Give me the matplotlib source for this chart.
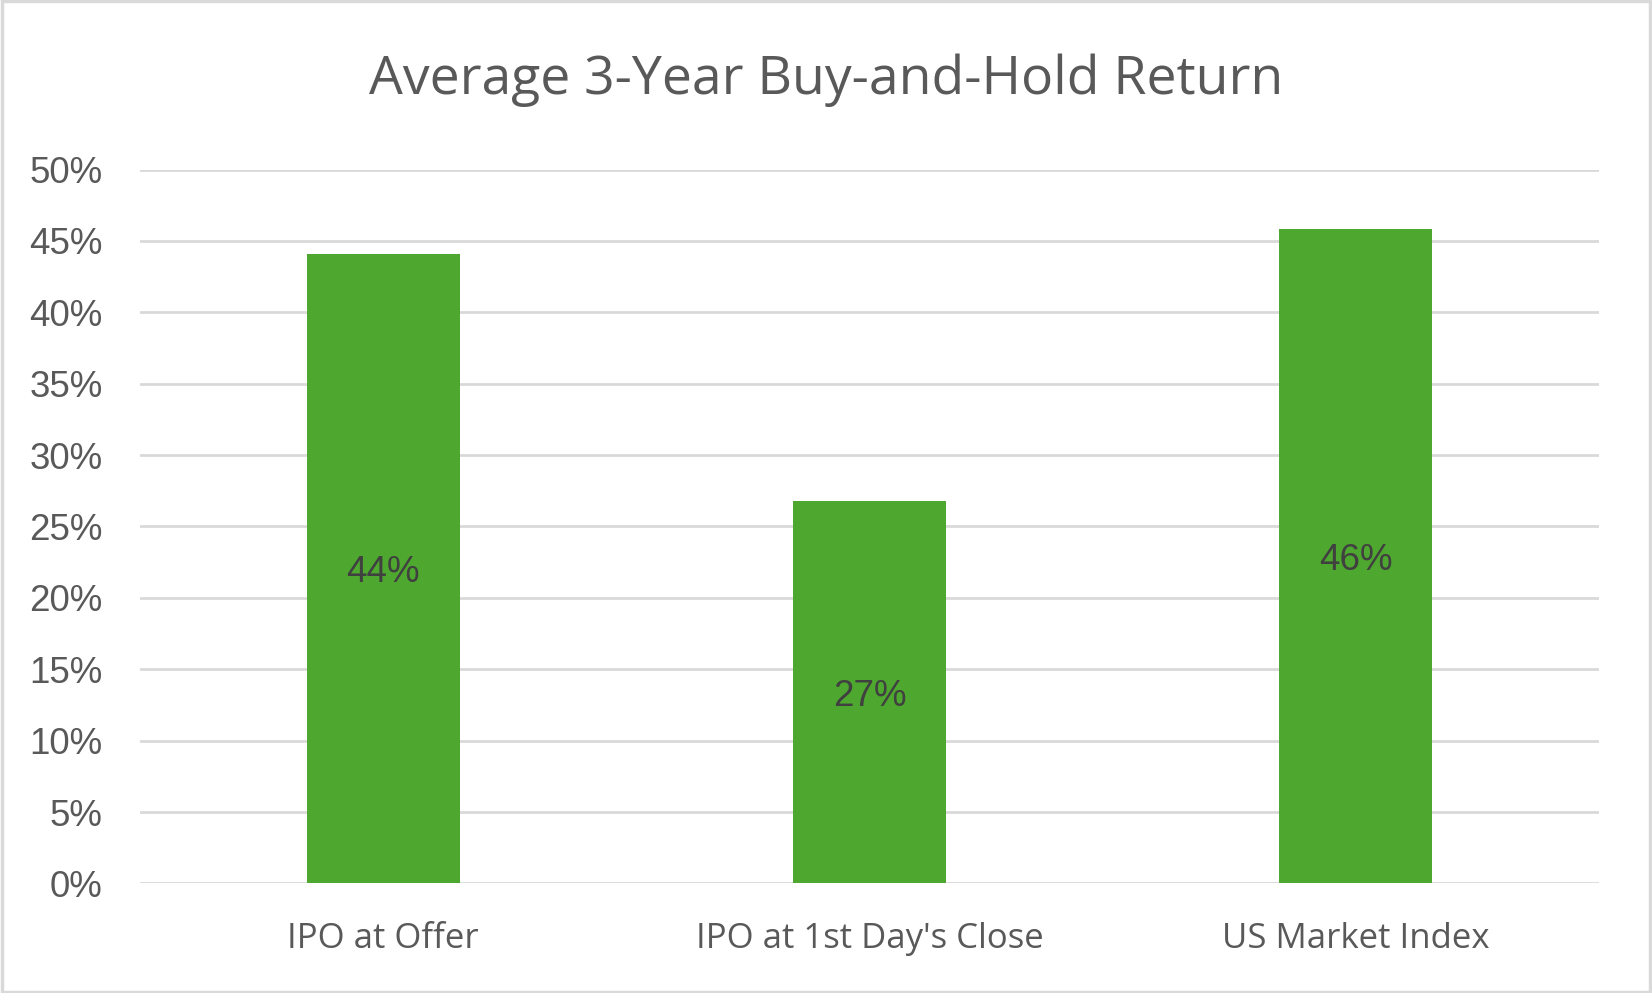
import matplotlib.pyplot as plt
from matplotlib.patches import Rectangle
from matplotlib.ticker import PercentFormatter

# data
categories = ["IPO at Offer", "IPO at 1st Day's Close", "US Market Index"]
returns = [0.441, 0.268, 0.458]
labels = ["44%", "27%", "46%"]

green = "#4EA72E"
grey_txt = "#595959"
grid_col = "#D9D9D9"

fig = plt.figure(figsize=(16.52, 9.93), dpi=100)
ax = fig.add_axes([0.0848, 0.1103, 0.883, 0.719])

x = range(len(categories))
bars = ax.bar(x, returns, width=0.314, color=green, zorder=3)

for b, lab in zip(bars, labels):
    ax.text(b.get_x() + b.get_width() / 2, b.get_height() / 2, lab,
            ha="center", va="center_baseline", fontsize=26.5, color="#404040",
            family="Liberation Sans", zorder=4)

ax.set_xlim(-0.5, 2.5)
ax.set_ylim(0, 0.5)
ax.set_yticks([i * 0.05 for i in range(11)])
ax.yaxis.set_major_formatter(PercentFormatter(1.0, decimals=0))
ax.set_xticks(list(x))
ax.set_xticklabels(categories, fontsize=25, color=grey_txt, family="Open Sans")
for t in ax.get_yticklabels():
    t.set_family("Liberation Sans")
    t.set_fontsize(26.5)
    t.set_color(grey_txt)

ax.grid(axis="y", color=grid_col, linewidth=2, zorder=0)
ax.tick_params(axis="y", length=0, pad=27)
ax.tick_params(axis="x", length=0, pad=28)
for s in ax.spines.values():
    s.set_visible(False)

fig.suptitle("Average 3-Year Buy-and-Hold Return", y=0.919, va="center",
             fontsize=38.5, color=grey_txt, family="Open Sans")

# light border around the whole chart area
fig.patches.append(Rectangle((0.001, 0.001), 0.998, 0.998, transform=fig.transFigure,
                             fill=False, edgecolor=grid_col, linewidth=2.5))

fig.savefig("out.png", dpi=100)
